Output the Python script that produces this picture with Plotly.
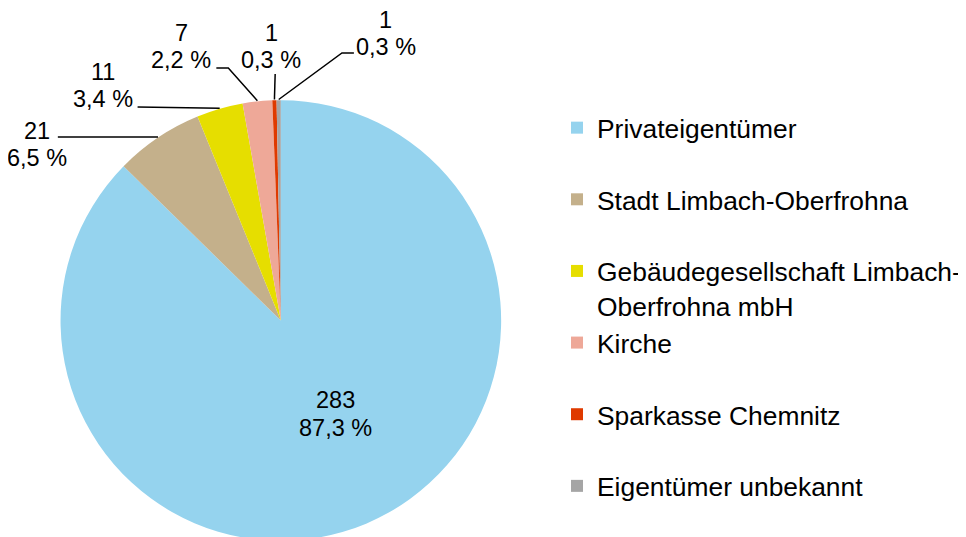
import math
import plotly.graph_objects as go

# ---- data ----
categories = ["Privateigentümer", "Stadt Limbach-Oberfrohna",
              "Gebäudegesellschaft Limbach-<br>Oberfrohna mbH", "Kirche",
              "Sparkasse Chemnitz", "Eigentümer unbekannt"]
counts = [283, 21, 11, 7, 1, 1]
colors = ["#95D3EE", "#C4B08B", "#E6DE00", "#EEA898", "#DF3A00", "#A5A5A5"]

# ---- layout constants (page pixels) ----
OFF = 8                  # default body margin of the page
FW, FH = 958, 560        # figure size (bottom part falls below the window)
CX, TOP, R = 281.7, 99.5, 221.0
CY = TOP + R

# label text centres: (x, y line1, y line2)
label_pos = [(337, 400, 428), (37, 131, 158), (103, 72, 99),
             (182, 33, 60), (272, 33, 60), (387, 20, 47)]
# leader line points on the label side; the slice end is computed from data
leader_pts = [None, [(58, 137)], [(138, 107)], [(217, 68), (229, 68)],
              [(276, 74)], [(355, 53), (343, 53)]]


def px(x):
    return (x - OFF) / FW


def py(y):
    return 1 - (y - OFF) / FH


total = sum(counts)
legend_names = [c if "<br>" in c else c + "<br> " for c in categories]

fig = go.Figure(go.Pie(
    labels=legend_names,
    values=counts,
    marker=dict(colors=colors, line=dict(width=0)),
    sort=False,
    direction="clockwise",
    rotation=0,
    textinfo="none",
    hoverinfo="label+value+percent",
    domain=dict(x=[px(CX - R), px(CX + R)], y=[py(TOP + 2 * R), py(TOP)]),
))

annotations = []
shapes = []
cum = 0
lab_font = dict(family="Liberation Sans, Arial, sans-serif", size=23.5, color="#000000")
for i, v in enumerate(counts):
    mid = (cum + v / 2) / total * 2 * math.pi
    cum += v
    pct = f"{v / total * 100:.1f} %".replace(".", ",")
    x, y1, y2 = label_pos[i]
    annotations.append(dict(x=px(x), y=py(y1), xref="paper", yref="paper", text=str(v),
                            showarrow=False, xanchor="center", yanchor="middle", font=lab_font))
    annotations.append(dict(x=px(x), y=py(y2), xref="paper", yref="paper", text=pct,
                            showarrow=False, xanchor="center", yanchor="middle", font=lab_font))
    if leader_pts[i]:
        ex = CX + R * math.sin(mid)
        ey = CY - R * math.cos(mid)
        pts = leader_pts[i] + [(ex, ey)]
        path = "M " + " L ".join(f"{px(a):.5f},{py(b):.5f}" for a, b in pts)
        shapes.append(dict(type="path", path=path, xref="paper", yref="paper",
                           line=dict(color="#000000", width=1.5)))

fig.update_layout(
    width=FW, height=FH,
    margin=dict(l=0, r=0, t=0, b=0),
    paper_bgcolor="#FFFFFF",
    plot_bgcolor="#FFFFFF",
    font=dict(family="Liberation Sans, Arial, sans-serif", color="#000000"),
    showlegend=True,
    legend=dict(x=px(559), y=py(104), xanchor="left", yanchor="top",
                font=dict(size=26.4, color="#000000"), valign="top",
                bgcolor="rgba(0,0,0,0)"),
    annotations=annotations,
    shapes=shapes,
)

fig.write_html("out.html")
